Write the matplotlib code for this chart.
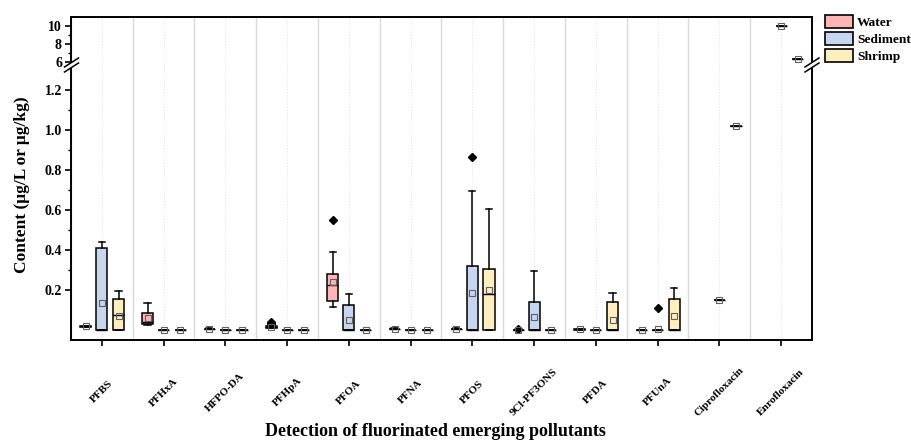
import matplotlib
matplotlib.use('Agg')
import matplotlib.pyplot as plt
import numpy as np
from matplotlib.patches import Patch, Polygon
from matplotlib.lines import Line2D

plt.rcParams['font.family'] = ['Liberation Serif', 'DejaVu Serif']
plt.rcParams['font.weight'] = 'bold'
plt.rcParams['axes.labelweight'] = 'bold'

categories = ['PFBS', 'PFHxA', 'HFPO-DA', 'PFHpA', 'PFOA', 'PFNA', 'PFOS',
              '9Cl-PF3ONS', 'PFDA', 'PFUnA', 'Ciprofloxacin', 'Enrofloxacin']
groups = ['Water', 'Sediment', 'Shrimp']
colors = ['#FFB5B5', '#C6D6EF', '#FFEFBF']

# stats per category: whislo, q1, med, q3, whishi, mean ; None = not measured
water_lo   = [0.014, 0.025, 0.003, 0.010, 0.117, 0.003, 0.003, 0.000, 0.001, 0.0, None, None]
water_q1   = [0.016, 0.030, 0.004, 0.012, 0.147, 0.004, 0.004, 0.000, 0.002, 0.0, None, None]
water_med  = [0.018, 0.042, 0.005, 0.014, 0.225, 0.005, 0.005, 0.000, 0.003, 0.0, None, None]
water_q3   = [0.020, 0.083, 0.006, 0.018, 0.280, 0.006, 0.007, 0.001, 0.004, 0.0, None, None]
water_hi   = [0.022, 0.133, 0.008, 0.022, 0.388, 0.008, 0.009, 0.002, 0.005, 0.0, None, None]
water_mean = [0.018, 0.058, 0.005, 0.015, 0.240, 0.005, 0.005, 0.001, 0.003, 0.0, None, None]
water_fliers = [[], [], [], [0.028, 0.033, 0.038], [0.55], [], [], [0.004], [], [], [], []]

sed_lo   = [0.0, 0.0, 0.0, 0.0, 0.0, 0.0, 0.0, 0.0, 0.0, 0.0, 0.148, 10.0]
sed_q1   = [0.0, 0.0, 0.0, 0.0, 0.0, 0.0, 0.0, 0.0, 0.0, 0.0, 0.148, 10.0]
sed_med  = [0.0, 0.0, 0.0, 0.0, 0.0, 0.0, 0.0, 0.0, 0.0, 0.0, 0.148, 10.0]
sed_q3   = [0.41, 0.0, 0.0, 0.0, 0.123, 0.0, 0.318, 0.142, 0.0, 0.0, 0.148, 10.0]
sed_hi   = [0.44, 0.0, 0.0, 0.0, 0.18, 0.0, 0.693, 0.293, 0.0, 0.0, 0.148, 10.0]
sed_mean = [0.135, 0.0, 0.0, 0.0, 0.052, 0.0, 0.183, 0.067, 0.0, 0.007, 0.148, 10.0]
sed_fliers = [[], [], [], [], [], [], [0.863], [], [], [0.11], [], []]

shr_lo   = [0.0, 0.0, 0.0, 0.0, 0.0, 0.0, 0.0, 0.0, 0.0, 0.0, 1.022, 6.3]
shr_q1   = [0.0, 0.0, 0.0, 0.0, 0.0, 0.0, 0.0, 0.0, 0.0, 0.0, 1.022, 6.3]
shr_med  = [0.075, 0.0, 0.0, 0.0, 0.0, 0.0, 0.178, 0.0, 0.0, 0.0, 1.022, 6.3]
shr_q3   = [0.155, 0.0, 0.0, 0.0, 0.0, 0.0, 0.307, 0.0, 0.142, 0.155, 1.022, 6.3]
shr_hi   = [0.197, 0.0, 0.0, 0.0, 0.0, 0.0, 0.607, 0.0, 0.185, 0.21, 1.022, 6.3]
shr_mean = [0.072, 0.0, 0.0, 0.0, 0.0, 0.0, 0.198, 0.0, 0.05, 0.068, 1.022, 6.3]
shr_fliers = [[], [], [], [], [], [], [], [], [], [], [], []]

data = [
    (water_lo, water_q1, water_med, water_q3, water_hi, water_mean, water_fliers),
    (sed_lo, sed_q1, sed_med, sed_q3, sed_hi, sed_mean, sed_fliers),
    (shr_lo, shr_q1, shr_med, shr_q3, shr_hi, shr_mean, shr_fliers),
]
offsets = [-0.26, 0.0, 0.27]

W, H = 912, 442
fig = plt.figure(figsize=(W / 100, H / 100), dpi=100)
L, R = 71 / W, 812 / W
ytop, ybrk, ybot = 1 - 17 / H, 1 - 65 / H, 1 - 340 / H
ax_top = fig.add_axes([L, ybrk, R - L, ytop - ybrk])
ax_bot = fig.add_axes([L, ybot, R - L, ybrk - ybot])

for ax in (ax_top, ax_bot):
    ax.set_xlim(0.5, len(categories) + 0.5)
    for k in range(len(categories) + 1):
        ax.axvline(k + 0.5, color='#DADADA', lw=1.0, zorder=0)
    for k in range(1, len(categories) + 1):
        ax.axvline(k, color='#E6E6E6', lw=0.8, ls=':', zorder=0)
    for gi, (lo, q1, med, q3, hi, mean, fl) in enumerate(data):
        stats, pos = [], []
        for i in range(len(categories)):
            if lo[i] is None:
                continue
            stats.append(dict(whislo=lo[i], q1=q1[i], med=med[i], q3=q3[i],
                              whishi=hi[i], mean=mean[i], fliers=fl[i]))
            pos.append(i + 1 + offsets[gi])
        ax.bxp(stats, positions=pos, widths=0.18, capwidths=0.1,
               patch_artist=True, showmeans=True, manage_ticks=False,
               boxprops=dict(facecolor=colors[gi], edgecolor='black', linewidth=1.1),
               medianprops=dict(color='black', linewidth=1.0),
               whiskerprops=dict(color='black', linewidth=1.1),
               capprops=dict(color='black', linewidth=1.1),
               meanprops=dict(marker='s', markerfacecolor='none',
                              markeredgecolor='#606060', markersize=4,
                              markeredgewidth=0.8),
               flierprops=dict(marker='D', markerfacecolor='black',
                               markeredgecolor='black', markersize=3.8))
    for s in ax.spines.values():
        s.set_linewidth(1.4)

ax_bot.set_ylim(-0.05, 1.325)
ax_top.set_ylim(5.67, 11.0)
ax_top.spines['bottom'].set_visible(False)
ax_bot.spines['top'].set_visible(False)
ax_top.set_xticks([])
ax_top.set_yticks([6, 8, 10])
ax_top.set_yticks([7, 9], minor=True)
ax_bot.set_yticks([0.2, 0.4, 0.6, 0.8, 1.0, 1.2])
ax_bot.set_yticks([0.3, 0.5, 0.7, 0.9, 1.1], minor=True)
ax_bot.set_yticklabels(['0.2', '0.4', '0.6', '0.8', '1.0', '1.2'])
for ax in (ax_top, ax_bot):
    ax.tick_params(axis='y', which='major', direction='out', length=4.5, width=1.2,
                   labelsize=10, pad=2)
    ax.tick_params(axis='y', which='minor', direction='out', length=2.5, width=1.0)
ax_bot.set_xticks(range(1, len(categories) + 1))
ax_bot.set_xticklabels(categories, rotation=45, ha='center', va='center',
                       rotation_mode='anchor', fontsize=8, fontweight='bold')
ax_bot.tick_params(axis='x', direction='out', length=4.5, width=1.2, pad=33)

fig.text(22 / W, 1 - 185 / H, 'Content (μg/L or μg/kg)', rotation=90,
         ha='center', va='center', fontsize=12.5, fontweight='bold')
fig.text(435 / W, 1 - 431 / H, 'Detection of fluorinated emerging pollutants',
         ha='center', va='center', fontsize=13, fontweight='bold')

# break marks
def brk(x0, y0):
    poly = Polygon([[(x0 - 3.5) / W, 1 - (y0 - 2.5 + 2.3) / H],
                    [(x0 + 3.5) / W, 1 - (y0 - 2.5 - 2.3) / H],
                    [(x0 + 3.5) / W, 1 - (y0 + 2.5 - 2.3) / H],
                    [(x0 - 3.5) / W, 1 - (y0 + 2.5 + 2.3) / H]],
                   closed=True, facecolor='white', edgecolor='none',
                   transform=fig.transFigure, zorder=5)
    fig.add_artist(poly)
    for dy in (-2.5, 2.5):
        xs = [(x0 - 7) / W, (x0 + 7) / W]
        ys = [1 - (y0 + dy + 4.5) / H, 1 - (y0 + dy - 4.5) / H]
        fig.add_artist(Line2D(xs, ys, color='black', lw=1.1,
                              transform=fig.transFigure, zorder=6))

brk(71.5, 65)
brk(812, 65)

handles = [Patch(facecolor=c, edgecolor='black', linewidth=1.2, label=g)
           for c, g in zip(colors, groups)]
fig.legend(handles=handles, loc='upper left', bbox_to_anchor=(825 / W, 1 - 15 / H),
           frameon=False, handlelength=2.1, handleheight=1.15, labelspacing=0.2,
           handletextpad=0.3, borderaxespad=0, borderpad=0,
           prop=dict(weight='bold', size=9.6))

fig.savefig('out.png', dpi=100)
